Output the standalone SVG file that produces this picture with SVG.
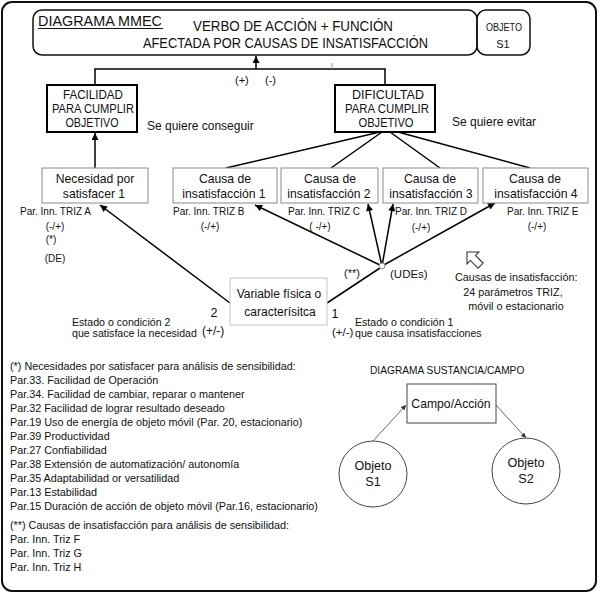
<svg xmlns="http://www.w3.org/2000/svg" width="600" height="594" viewBox="0 0 600 594">
<style>
text{font-family:"Liberation Sans",Arial,sans-serif;fill:#111}
.c{text-anchor:middle}
.bold{fill:none;stroke:#000;stroke-width:2}
.thin{fill:#fff;stroke:#8a8a8a;stroke-width:1}
.light{fill:#fff;stroke:#c4c4c4;stroke-width:1}
.conn{stroke:#000;stroke-width:1.5;fill:none}
.gconn{stroke:#666;stroke-width:1;fill:none}
.box{font-size:12.2px}
.cap{font-size:12px}
.par{font-size:10px}
.lst{font-size:10.8px}
.note{font-size:10.6px}
</style>
<defs>
<marker id="ah" viewBox="0 0 10 10" refX="10" refY="5" markerWidth="8" markerHeight="7" markerUnits="userSpaceOnUse" orient="auto"><path d="M0,0 L10,5 L0,10 z" fill="#000"/></marker>
<marker id="ahs" viewBox="0 0 10 10" refX="10" refY="5" markerWidth="6" markerHeight="5" markerUnits="userSpaceOnUse" orient="auto"><path d="M0,0 L10,5 L0,10 z" fill="#333"/></marker>
</defs>
<rect x="0" y="0" width="600" height="594" fill="#fff"/>
<rect x="2" y="2" width="594" height="589" rx="10" fill="none" stroke="#111" stroke-width="2"/>

<g id="titulo">
<rect x="33" y="10" width="444" height="45" rx="9" fill="none" stroke="#111" stroke-width="1.5"/>
<text x="38" y="26" font-size="14.4">DIAGRAMA MMEC</text>
<line x1="38" y1="28.5" x2="163" y2="28.5" stroke="#111" stroke-width="1"/>
<text x="193" y="31" font-size="13.8" textLength="200" lengthAdjust="spacingAndGlyphs">VERBO DE ACCIÓN + FUNCIÓN</text>
<text x="143" y="48" font-size="13.8" textLength="285" lengthAdjust="spacingAndGlyphs">AFECTADA POR CAUSAS DE INSATISFACCIÓN</text>
</g>
<g id="objeto">
<rect x="477" y="10" width="53" height="45" rx="9" fill="none" stroke="#111" stroke-width="1.5"/>
<text x="504" y="30.5" class="c" font-size="10.5" textLength="36" lengthAdjust="spacingAndGlyphs">OBJETO</text>
<text x="503" y="48" class="c" font-size="11">S1</text>
</g>

<g id="connectors">
<line x1="256" y1="69" x2="256" y2="56" class="conn" marker-end="url(#ah)"/>
<path d="M95,86 V69 H385 V86" class="conn"/>
<line x1="332" y1="63" x2="332" y2="69" stroke="#999" stroke-width="1"/>
<line x1="95" y1="168" x2="95" y2="133" class="conn" marker-end="url(#ah)"/>
<line x1="380" y1="132" x2="226" y2="168" class="conn"/>
<line x1="382" y1="132" x2="331" y2="168" class="conn"/>
<line x1="390" y1="132" x2="440" y2="168" class="conn"/>
<line x1="398" y1="132" x2="530" y2="168" class="conn"/>
<line x1="382" y1="266" x2="255" y2="205" class="conn" marker-end="url(#ah)"/>
<line x1="382" y1="266" x2="368" y2="204" class="conn" marker-end="url(#ah)"/>
<line x1="382" y1="266" x2="393" y2="204" class="conn" marker-end="url(#ah)"/>
<line x1="382" y1="266" x2="495" y2="203" class="conn" marker-end="url(#ah)"/>
<line x1="327" y1="303" x2="380" y2="268" class="conn"/>
<line x1="230" y1="303" x2="100" y2="205" class="conn" marker-end="url(#ah)"/>
<circle cx="382" cy="266" r="3" fill="#fff" stroke="#888" stroke-width="1"/>
<line x1="373" y1="441" x2="406" y2="405" class="gconn" marker-end="url(#ahs)"/>
<line x1="496" y1="405" x2="526" y2="438" class="gconn" marker-end="url(#ahs)"/>
</g>

<text x="235" y="84" font-size="11">(+)</text>
<text x="265" y="84" font-size="11">(-)</text>

<g id="facilidad">
<rect x="47" y="85" width="90" height="47" class="bold"/>
<text x="93" y="99" class="cap c" textLength="60" lengthAdjust="spacingAndGlyphs">FACILIDAD</text>
<text x="93" y="113" class="cap c" textLength="82" lengthAdjust="spacingAndGlyphs">PARA CUMPLIR</text>
<text x="92" y="127" class="cap c" textLength="53" lengthAdjust="spacingAndGlyphs">OBJETIVO</text>
</g>
<text x="147" y="130" font-size="12">Se quiere conseguir</text>

<g id="dificultad">
<rect x="335" y="85" width="100" height="47" class="bold"/>
<text x="388" y="99" class="cap c" textLength="72" lengthAdjust="spacingAndGlyphs">DIFICULTAD</text>
<text x="387" y="113" class="cap c" textLength="84" lengthAdjust="spacingAndGlyphs">PARA CUMPLIR</text>
<text x="386" y="127" class="cap c" textLength="55" lengthAdjust="spacingAndGlyphs">OBJETIVO</text>
</g>
<text x="452" y="126" font-size="12">Se quiere evitar</text>

<g id="necesidad1">
<rect x="42" y="168" width="106" height="35" class="thin"/>
<text x="95" y="183" class="box c">Necesidad por</text>
<text x="94" y="198" class="box c">satisfacer 1</text>
</g>
<g id="causa1">
<rect x="173" y="168" width="104" height="35" class="thin"/>
<text x="225" y="183" class="box c">Causa de</text>
<text x="224" y="198" class="box c">insatisfacción 1</text>
</g>
<g id="causa2">
<rect x="281" y="168" width="97" height="35" class="thin"/>
<text x="330" y="183" class="box c">Causa de</text>
<text x="329" y="198" class="box c">insatisfacción 2</text>
</g>
<g id="causa3">
<rect x="383" y="168" width="95" height="35" class="thin"/>
<text x="430" y="183" class="box c">Causa de</text>
<text x="431" y="198" class="box c">insatisfacción 3</text>
</g>
<g id="causa4">
<rect x="483" y="168" width="105" height="35" class="thin"/>
<text x="535" y="183" class="box c">Causa de</text>
<text x="536" y="198" class="box c">insatisfacción 4</text>
</g>

<g id="etiquetas">
<text x="20" y="215" class="par">Par. Inn. TRIZ A</text>
<text x="55" y="230" class="par c">(-/+)</text>
<text x="51" y="243" class="par c">(*)</text>
<text x="55" y="262" class="par c" font-size="11">(DE)</text>
<text x="173" y="215" class="par">Par. Inn. TRIZ  B</text>
<text x="210" y="230" class="par c">(-/+)</text>
<text x="288" y="215" class="par">Par. Inn. TRIZ C</text>
<text x="320" y="230" class="par c">( -/+)</text>
<text x="395" y="215" class="par">Par. Inn. TRIZ D</text>
<text x="421" y="231" class="par c">(-/+)</text>
<text x="507" y="215" class="par">Par. Inn. TRIZ E</text>
<text x="537" y="230" class="par c">(-/+)</text>
<text x="352" y="277" class="c" font-size="11">(**)</text>
<text x="390" y="278" font-size="11.5">(UDEs)</text>
</g>

<g id="variable">
<rect x="230" y="278" width="97" height="47" class="light"/>
<text x="279" y="298" class="c" font-size="12">Variable física o</text>
<text x="280" y="316" class="c" font-size="12">caracterísitca</text>
</g>

<text x="214" y="317" class="c" font-size="12.5">2</text>
<text x="202" y="335" font-size="12">(+/-)</text>
<text x="72" y="326" class="note">Estado o condición 2</text>
<text x="72" y="337" class="note">que satisface la necesidad</text>
<text x="335" y="318" class="c" font-size="12.5">1</text>
<text x="332" y="336" font-size="11.5">(+/-)</text>
<text x="355" y="326" class="note">Estado o condición 1</text>
<text x="355" y="337" class="note">que causa insatisfacciones</text>

<path d="M0,0 L7,-7 L7,-3 L16,-3 L16,3 L7,3 L7,7 Z" transform="translate(467,252) rotate(45) scale(1.2)" fill="#fff" stroke="#333" stroke-width="0.9"/>
<text x="455" y="281" class="lst">Causas de insatisfacción:</text>
<text x="513" y="296" class="lst c">24 parámetros TRIZ,</text>
<text x="516" y="310" class="lst c">móvil o estacionario</text>

<g id="lista">
<text x="10" y="370" class="lst">(*) Necesidades por satisfacer para análisis de sensibilidad:</text>
<text x="10" y="384" class="lst">Par.33. Facilidad de Operación</text>
<text x="10" y="398" class="lst">Par.34. Facilidad de cambiar, reparar o mantener</text>
<text x="10" y="412" class="lst">Par.32  Facilidad de lograr resultado deseado</text>
<text x="10" y="426" class="lst">Par.19 Uso de energía de objeto móvil (Par. 20, estacionario)</text>
<text x="10" y="440" class="lst">Par.39 Productividad</text>
<text x="10" y="454" class="lst">Par.27 Confiabilidad</text>
<text x="10" y="468" class="lst">Par.38 Extensión de automatización/ autonomía</text>
<text x="10" y="482" class="lst">Par.35 Adaptabilidad or versatilidad</text>
<text x="10" y="496" class="lst">Par.13 Estabilidad</text>
<text x="10" y="510" class="lst">Par.15 Duración de acción de objeto móvil (Par.16, estacionario)</text>
<text x="10" y="529" class="lst">(**) Causas de insatisfacción para análisis de sensibilidad:</text>
<text x="10" y="543" class="lst">Par. Inn. Triz F</text>
<text x="10" y="557" class="lst">Par. Inn. Triz G</text>
<text x="10" y="571" class="lst">Par. Inn. Triz H</text>
</g>

<text x="370" y="374" font-size="10.2">DIAGRAMA SUSTANCIA/CAMPO</text>
<g id="campo">
<rect x="407" y="384" width="89" height="39" fill="#fff" stroke="#444" stroke-width="1"/>
<text x="451" y="408" class="c" font-size="12.2">Campo/Acción</text>
</g>
<g id="objetoS1">
<ellipse cx="373" cy="474" rx="34" ry="33" fill="#fff" stroke="#444" stroke-width="1"/>
<text x="373" y="470" class="c" font-size="12.6">Objeto</text>
<text x="373" y="486" class="c" font-size="12.6">S1</text>
</g>
<g id="objetoS2">
<ellipse cx="526" cy="471" rx="34" ry="33" fill="#fff" stroke="#444" stroke-width="1"/>
<text x="526" y="467" class="c" font-size="12.6">Objeto</text>
<text x="526" y="483" class="c" font-size="12.6">S2</text>
</g>
</svg>
